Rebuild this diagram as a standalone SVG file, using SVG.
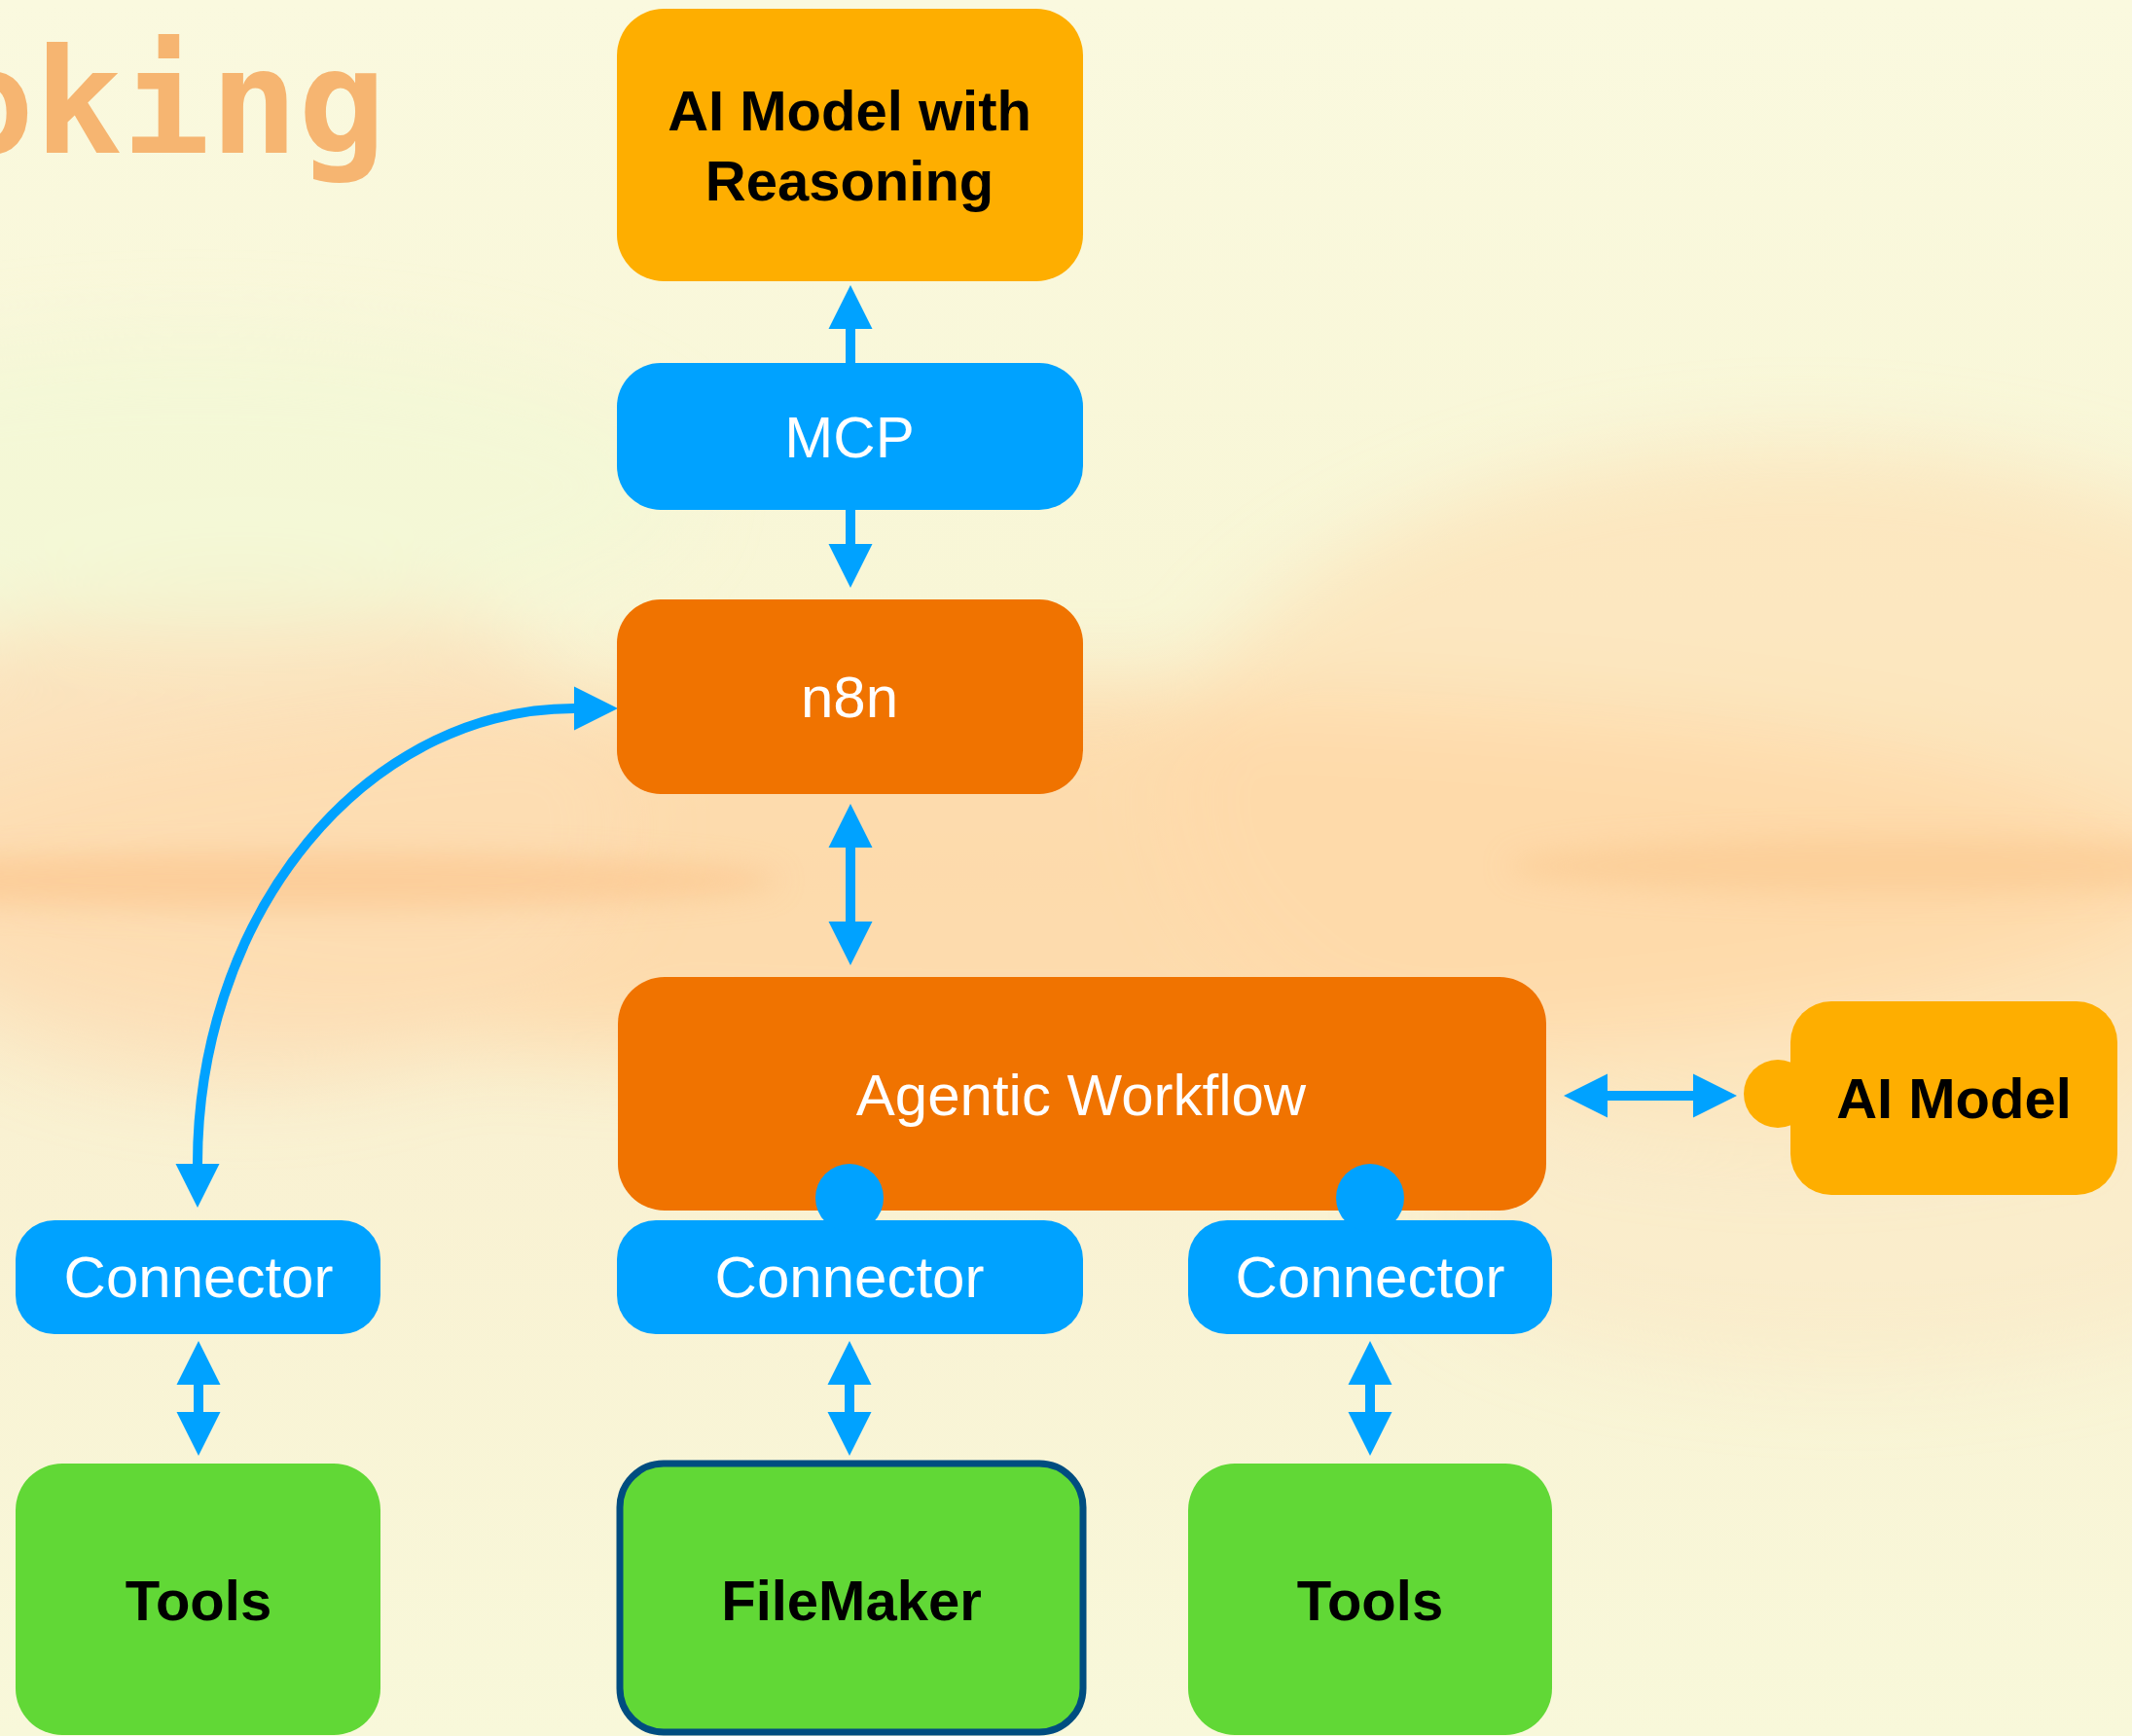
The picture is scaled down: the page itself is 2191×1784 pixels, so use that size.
<svg xmlns="http://www.w3.org/2000/svg" width="2191" height="1784" viewBox="0 0 2191 1784">
<style>
.lbl{font-family:"Liberation Sans",Arial,sans-serif;font-size:60px;text-anchor:middle}
.w{fill:#FFFFFF}
.k{fill:#000000;font-weight:bold;font-size:58px}
.blue{fill:#00A2FF}
.orange{fill:#F07300}
.gold{fill:#FEAE00}
.green{fill:#61D836}
.conn{stroke:#00A2FF;stroke-width:10;fill:none;marker-end:url(#ah)}
.both{marker-start:url(#ah)}
</style>
<defs>
<marker id="ah" markerUnits="userSpaceOnUse" markerWidth="50" markerHeight="50" viewBox="0 -25 50 50" refX="0" refY="0" orient="auto-start-reverse">
<path d="M0,-22.5 L45,0 L0,22.5 Z" fill="#00A2FF"/>
</marker>
<linearGradient id="bg" x1="0" y1="0" x2="0" y2="1">
<stop offset="0" stop-color="#FAF9DF"/>
<stop offset="0.35" stop-color="#F8F6D6"/>
<stop offset="0.5" stop-color="#FBE8C2"/>
<stop offset="0.65" stop-color="#F9F1D2"/>
<stop offset="1" stop-color="#F8F8DA"/>
</linearGradient>
<filter id="blur" x="-50%" y="-50%" width="200%" height="200%"><feGaussianBlur stdDeviation="40"/></filter>
<filter id="blur2" x="-50%" y="-50%" width="200%" height="200%"><feGaussianBlur stdDeviation="14"/></filter>
</defs>
<rect x="0" y="0" width="2191" height="1784" fill="url(#bg)"/>
<g id="background" filter="url(#blur)">
<ellipse cx="1850" cy="820" rx="650" ry="360" fill="#FCE3BA" opacity="0.8"/>
<ellipse cx="1050" cy="900" rx="1200" ry="190" fill="#FDD6A4" opacity="0.75"/>
<ellipse cx="250" cy="850" rx="400" ry="260" fill="#FCDDB5" opacity="0.7"/>
<ellipse cx="1900" cy="1250" rx="450" ry="160" fill="#FBE7C4" opacity="0.5"/>
<ellipse cx="200" cy="500" rx="500" ry="150" fill="#F3F7D6" opacity="0.8"/>
</g>
<g filter="url(#blur2)">
<ellipse cx="300" cy="905" rx="500" ry="30" fill="#FBC58C" opacity="0.6"/>
<ellipse cx="1950" cy="890" rx="400" ry="30" fill="#FBC58C" opacity="0.5"/>
</g>
<text x="-55" y="157" font-family="DejaVu Sans Mono,monospace" font-weight="bold" font-size="150" fill="#F6B571">oking</text>

<g id="connectors">
<line class="conn" x1="874" y1="373" x2="874" y2="338"/>
<line class="conn" x1="874" y1="524" x2="874" y2="559"/>
<line class="conn both" x1="874" y1="871" x2="874" y2="947"/>
<line class="conn both" x1="1652" y1="1126" x2="1740" y2="1126"/>
<line class="conn both" x1="204" y1="1423" x2="204" y2="1451"/>
<line class="conn both" x1="873" y1="1423" x2="873" y2="1451"/>
<line class="conn both" x1="1408" y1="1423" x2="1408" y2="1451"/>
<path class="conn both" d="M203,1196 A387,468 0 0 1 590,728"/>
</g>

<g id="ai-reasoning">
<rect class="gold" x="634" y="9" width="479" height="280" rx="48"/>
<text class="lbl k" x="873" y="134">AI Model with</text>
<text class="lbl k" x="873" y="206">Reasoning</text>
</g>
<g id="mcp">
<rect class="blue" x="634" y="373" width="479" height="151" rx="45"/>
<text class="lbl w" x="873" y="470">MCP</text>
</g>
<g id="n8n">
<rect class="orange" x="634" y="616" width="479" height="200" rx="45"/>
<text class="lbl w" x="873" y="737">n8n</text>
</g>
<g id="agentic-workflow">
<rect class="orange" x="635" y="1004" width="954" height="240" rx="48"/>
<text class="lbl w" x="1111" y="1146">Agentic Workflow</text>
</g>
<g id="ai-model">
<circle class="gold" cx="1827" cy="1124" r="35"/>
<rect class="gold" x="1840" y="1029" width="336" height="199" rx="42"/>
<text class="lbl k" x="2008" y="1149">AI Model</text>
</g>
<g id="connector-left">
<rect class="blue" x="16" y="1254" width="375" height="117" rx="40"/>
<text class="lbl w" x="204" y="1333">Connector</text>
</g>
<g id="connector-middle">
<rect class="blue" x="634" y="1254" width="479" height="117" rx="40"/>
<circle class="blue" cx="873" cy="1231" r="35"/>
<text class="lbl w" x="873" y="1333">Connector</text>
</g>
<g id="connector-right">
<rect class="blue" x="1221" y="1254" width="374" height="117" rx="40"/>
<circle class="blue" cx="1408" cy="1231" r="35"/>
<text class="lbl w" x="1408" y="1333">Connector</text>
</g>
<g id="tools-left">
<rect class="green" x="16" y="1504" width="375" height="279" rx="48"/>
<text class="lbl k" x="204" y="1665">Tools</text>
</g>
<g id="filemaker">
<rect class="green" x="637" y="1504" width="476" height="276" rx="45" stroke="#004D80" stroke-width="7"/>
<text class="lbl k" x="875" y="1665">FileMaker</text>
</g>
<g id="tools-right">
<rect class="green" x="1221" y="1504" width="374" height="279" rx="48"/>
<text class="lbl k" x="1408" y="1665">Tools</text>
</g>
</svg>
